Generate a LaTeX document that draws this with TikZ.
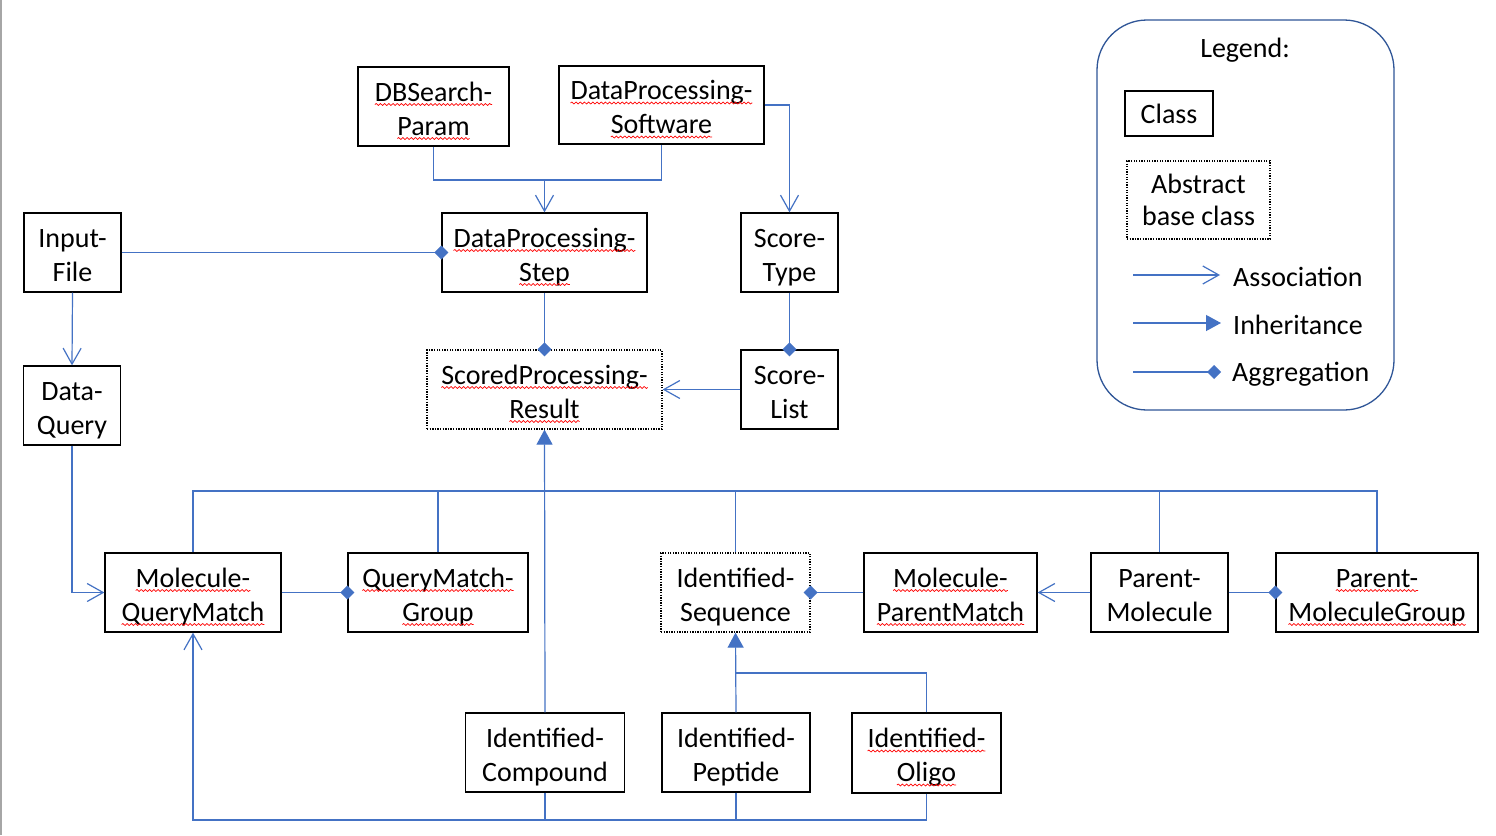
\documentclass[tikz,border=0pt]{standalone}
\usepackage{fontspec}
\setmainfont{Carlito}
\usetikzlibrary{arrows.meta,decorations.pathmorphing}
\definecolor{blueC}{HTML}{4472C4}
\definecolor{legB}{HTML}{2F5597}
\newcommand\sq[1]{\tikz[baseline=(w.base)]{\node[draw=none, inner sep=0pt, outer sep=0pt, minimum width=0pt, minimum height=0pt, text height=, text depth=] (w) {#1};
  \draw[red, solid, line width=0.7pt, decorate, decoration={snake, amplitude=1pt, segment length=4.2pt}] ([yshift=-3.5pt]w.base west) -- ([yshift=-3.5pt]w.base east);}}
\tikzset{
  box/.style={draw=black, line width=1.3pt, minimum height=79pt, inner sep=0pt, align=center, font=\fontsize{28}{34}\selectfont},
  cls/.style={box, text height=63pt, text depth=6pt},
  abs/.style={cls, dash pattern=on 1.3pt off 1.3pt},
  conn/.style={draw=blueC, line width=1.2pt},
  assoc/.style={conn, -{Straight Barb[length=16pt,width=18pt]}},
  inh/.style={conn, -{Triangle[length=15pt,width=16pt]}},
  agg/.style={conn, -{Diamond[length=14pt,width=14pt]}, shorten >=-7pt},
  legagg/.style={conn, -{Diamond[length=14pt,width=14pt]}},
  legtxt/.style={anchor=west, inner sep=0pt, font=\fontsize{28}{33}\selectfont},
}
\begin{document}
\begin{tikzpicture}[x=1pt, y=-1pt]
\useasboundingbox (0,0) rectangle (1496,835);
\fill[white] (0,0) rectangle (1496,835);
\draw[gray!70, line width=2pt] (1,0) -- (1,835);

% classes
\node[cls, minimum width=151pt] (dbs) at (433.5,106.5) {\sq{DBSearch-}\\\sq{Param}};
\node[cls, minimum width=205pt, minimum height=78pt] (dps) at (661.5,105) {\sq{DataProcessing-}\\\sq{Software}};
\node[cls, minimum width=97pt] (inp) at (72.5,252.5) {Input-\\File};
\node[cls, minimum width=205pt] (step) at (544.5,252.5) {\sq{DataProcessing-}\\\sq{Step}};
\node[cls, minimum width=97pt] (stype) at (789.5,252.5) {Score-\\Type};
\node[cls, minimum width=97pt] (dq) at (72,405.5) {Data-\\Query};
\node[abs, minimum width=235pt] (spr) at (544.5,389.5) {\sq{ScoredProcessing-}\\\sq{Result}};
\node[cls, minimum width=97pt] (slist) at (789.5,389.5) {Score-\\List};
\node[cls, minimum width=176pt] (mqm) at (193,592.5) {\sq{Molecule-}\\\sq{QueryMatch}};
\node[cls, minimum width=180pt] (qmg) at (438,592.5) {\sq{QueryMatch-}\\\sq{Group}};
\node[abs, minimum width=149pt] (iseq) at (735.5,592.5) {Identified-\\Sequence};
\node[cls, minimum width=173pt] (mpm) at (950.5,592.5) {\sq{Molecule-}\\\sq{ParentMatch}};
\node[cls, minimum width=137pt] (pm) at (1159.5,592.5) {Parent-\\Molecule};
\node[cls, minimum width=202pt] (pmg) at (1377,592.5) {\sq{Parent-}\\\sq{MoleculeGroup}};
\node[cls, minimum width=159pt] (icomp) at (545,752.5) {Identified-\\Compound};
\node[cls, minimum width=148pt] (ipep) at (736,752.5) {Identified-\\Peptide};
\node[cls, minimum width=149pt, minimum height=80pt] (iolig) at (926.5,753) {\sq{Identified-}\\\sq{Oligo}};

% junction coordinates
\coordinate (j1) at (544.5,180);
\coordinate (busL) at (193,491);
\coordinate (busR) at (1377,491);
\coordinate (j3) at (736,673);
\coordinate (j4) at (193,820);

% connectors
\draw[conn] (dbs.south) |- (j1) -| (dps.south);
\draw[assoc] (j1) -- (step.north);
\draw[assoc] (dps.east) -| (stype.north);
\draw[agg] (inp.east) -- (step.west);
\draw[assoc] (inp.south) -- (dq.north);
\draw[agg] (step.south) -- (spr.north);
\draw[agg] (stype.south) -- (slist.north);
\draw[assoc] (slist.west) -- (spr.east);

\draw[conn] (mqm.north) -- (busL) -- (busR) -- (pmg.north);
\draw[conn] (qmg.north) -- (qmg.north |- busL);
\draw[conn] (iseq.north) -- (iseq.north |- busL);
\draw[conn] (pm.north) -- (pm.north |- busL);
\draw[inh] (icomp.north) -- (spr.south);

\draw[assoc] (dq.south) |- (mqm.west);
\draw[agg] (mqm.east) -- (qmg.west);
\draw[agg] (mpm.west) -- (iseq.east);
\draw[assoc] (pm.west) -- (mpm.east);
\draw[agg] (pm.east) -- (pmg.west);

\draw[inh] (ipep.north) -- (iseq.south);
\draw[conn] (iolig.north) |- (j3);

\draw[assoc] (iolig.south) |- (j4) -- (mqm.south);
\draw[conn] (icomp.south) -- (icomp.south |- j4);
\draw[conn] (ipep.south) -- (ipep.south |- j4);

% legend
\node[draw=legB, line width=1.3pt, rounded corners=50pt, minimum width=297pt, minimum height=390pt, inner sep=0pt] (leg) at (1245.5,215) {};
\node[font=\fontsize{28}{33}\selectfont, inner sep=0pt] (legt) at (1245,50) {Legend:};
\node[box, minimum width=88pt, minimum height=45pt] (lcls) at (1169,113.5) {Class};
\node[box, dash pattern=on 1.3pt off 1.3pt, minimum width=143pt, minimum height=78pt, font=\fontsize{28}{32}\selectfont] (labs) at (1198.5,200) {Abstract\\base class};
\coordinate (la1) at (1133,275); \coordinate (la2) at (1220,275);
\coordinate (li1) at (1133,323); \coordinate (li2) at (1221,323);
\coordinate (lg1) at (1133,372); \coordinate (lg2) at (1221,372);
\draw[assoc] (la1) -- (la2);
\draw[inh] (li1) -- (li2);
\draw[legagg] (lg1) -- (lg2);
\node[legtxt] (lat) at (1233,277) {Association};
\node[legtxt] (lit) at (1233,325) {Inheritance};
\node[legtxt] (lgt) at (1232,374) {Aggregation};
\end{tikzpicture}
\end{document}
